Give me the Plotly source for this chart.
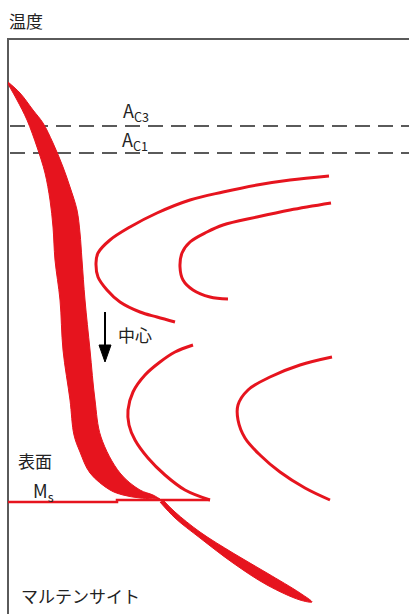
import plotly.graph_objects as go

# ---- data (chart units: x = time-like, y = temperature-like, drawn top-down) ----
band_left_x = [8, 17, 27, 37, 45, 50, 53, 55, 60, 63, 70, 74, 80, 90, 110, 123, 140, 160]
band_left_y = [84, 100, 120, 147, 173, 200, 227, 260, 300, 350, 400, 435, 452, 473, 490, 495, 498, 499]
band_right_x = [8, 20, 33, 43, 53, 63, 70, 77, 80, 82, 85, 90, 95, 101, 120, 140, 153, 160]
band_right_y = [82, 93, 110, 123, 143, 167, 187, 210, 233, 260, 300, 350, 400, 437, 473, 490, 495, 499]

tail_top_x = [163, 175, 200, 233, 267, 300, 312]
tail_top_y = [500, 512, 532, 553, 573, 593, 602]
tail_bot_x = [300, 267, 233, 200, 175, 160]
tail_bot_y = [600, 585, 563, 538, 518, 502]

c1_x = [329, 290, 257, 223, 190, 157, 130, 110, 98, 96, 98, 107, 120, 140, 157, 175]
c1_y = [176, 180, 185, 192, 200, 213, 227, 240, 253, 263, 277, 290, 302, 312, 317, 322]
c2_x = [331, 290, 257, 223, 207, 190, 182, 180, 183, 193, 210, 228]
c2_y = [203, 210, 217, 225, 232, 242, 253, 267, 280, 290, 297, 299]
c3_x = [193, 175, 160, 145, 133, 128, 129, 135, 148, 165, 185, 210]
c3_y = [345, 352, 362, 375, 392, 410, 425, 440, 458, 475, 490, 500]
c4_x = [332, 300, 270, 248, 238, 238, 245, 260, 280, 305, 330]
c4_y = [357, 365, 377, 390, 405, 420, 438, 455, 472, 488, 500]

ms_x = [8, 117, 117, 210]
ms_y = [502, 502, 500, 500]

ac3_level = 126
ac1_level = 153
x_min, x_max = 0, 409
y_top, y_bottom = 0, 614
frame_x = [8, 8, 409]
frame_y = [614, 39, 39]

arrow_x = [105, 105]
arrow_y = [312, 347]
arrowhead_x = [99, 111, 105, 99]
arrowhead_y = [345, 345, 362, 345]

RED = "#E6141E"
GRAY = "#5a5a5a"
FONT = "Noto Sans CJK JP"
TXT = "#222222"

fig = go.Figure()

# frame
fig.add_trace(go.Scatter(x=frame_x, y=frame_y, mode="lines",
                         line=dict(color=GRAY, width=2), hoverinfo="skip"))
# dashed AC lines
for lvl in (ac3_level, ac1_level):
    fig.add_trace(go.Scatter(x=[10, 409], y=[lvl, lvl], mode="lines",
                             line=dict(color=GRAY, width=2, dash="15px,8px"),
                             hoverinfo="skip"))

# main cooling band
fig.add_trace(go.Scatter(x=band_left_x + band_right_x[::-1],
                         y=band_left_y + band_right_y[::-1],
                         mode="lines", fill="toself", fillcolor=RED,
                         line=dict(color=RED, width=1, shape="spline"), hoverinfo="skip"))
# lower tail
fig.add_trace(go.Scatter(x=tail_top_x + tail_bot_x, y=tail_top_y + tail_bot_y,
                         mode="lines", fill="toself", fillcolor=RED,
                         line=dict(color=RED, width=1, shape="spline"), hoverinfo="skip"))
# C curves
for cx, cy in ((c1_x, c1_y), (c2_x, c2_y), (c3_x, c3_y), (c4_x, c4_y)):
    fig.add_trace(go.Scatter(x=cx, y=cy, mode="lines",
                             line=dict(color=RED, width=3, shape="spline"),
                             hoverinfo="skip"))
# Ms line
fig.add_trace(go.Scatter(x=ms_x, y=ms_y, mode="lines",
                         line=dict(color=RED, width=2.5), hoverinfo="skip"))

# arrow
fig.add_trace(go.Scatter(x=arrow_x, y=arrow_y, mode="lines",
                         line=dict(color="black", width=2), hoverinfo="skip"))
fig.add_trace(go.Scatter(x=arrowhead_x, y=arrowhead_y, mode="lines",
                         fill="toself", fillcolor="black",
                         line=dict(color="black", width=1), hoverinfo="skip"))

def txt(x, y, s, size=17, xanchor="left"):
    fig.add_annotation(x=x, y=y, text=s, showarrow=False, xanchor=xanchor,
                       yanchor="middle", font=dict(family=FONT, size=size, color=TXT))

txt(7, 20, "温度")
txt(121, 111, "A<sub>C3</sub>", size=18)
txt(120, 140, "A<sub>C1</sub>", size=18)
txt(116, 334, "中心")
txt(16, 460, "表面")
txt(31, 491, "M<sub>s</sub>", size=18)
txt(19, 595, "マルテンサイト")

fig.update_layout(
    width=409, height=614, margin=dict(l=0, r=0, t=0, b=0),
    paper_bgcolor="white", plot_bgcolor="white", showlegend=False,
    xaxis=dict(range=[x_min, x_max], visible=False, fixedrange=True),
    yaxis=dict(range=[y_bottom, y_top], visible=False, fixedrange=True),
)
fig.write_html(
    "out.html",
    config={"displayModeBar": False},
    post_script="document.body.style.margin='0';document.body.style.overflow='hidden';",
)
